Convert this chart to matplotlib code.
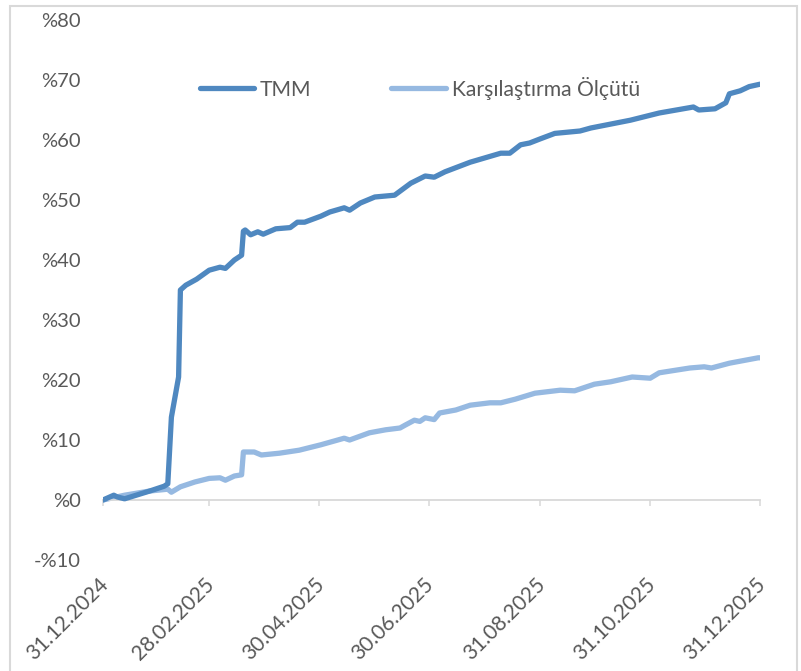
'''
    TMM ve karşılaştırma ölçütü getiri grafiği
'''
import matplotlib
matplotlib.use('Agg')
import matplotlib.pyplot as plt
import matplotlib.dates as mdates
import matplotlib.transforms as mtransforms
from matplotlib.patches import Rectangle
import pandas as pd

'''
    Veriler (31.12.2024'ten itibaren gün, kümülatif getiri %)
'''

start = pd.Timestamp('2024-12-31')

tmm_days = [0, 6, 8, 12, 26, 34, 36, 38, 42, 43, 46, 52, 59, 65, 68, 73, 77, 78, 79, 82,
            86, 89, 96, 104, 108, 112, 121, 126, 134, 137, 143, 151, 162, 171, 179, 184,
            190, 204, 221, 226, 232, 237, 243, 251, 265, 271, 293, 309, 328, 331, 340,
            346, 348, 354, 359, 365]
tmm_values = [0.0, 0.8, 0.5, 0.2, 1.5, 2.3, 2.7, 13.8, 20.5, 35.0, 35.8, 36.8, 38.3, 38.8,
              38.6, 40.0, 40.8, 44.8, 45.0, 44.2, 44.7, 44.3, 45.2, 45.4, 46.3, 46.3, 47.3,
              48.0, 48.7, 48.3, 49.5, 50.5, 50.8, 52.8, 54.0, 53.8, 54.7, 56.3, 57.8, 57.8,
              59.2, 59.5, 60.2, 61.1, 61.5, 62.0, 63.3, 64.5, 65.5, 65.0, 65.2, 66.2, 67.7,
              68.2, 68.9, 69.3]

olcut_days = [0, 12, 26, 36, 38, 43, 51, 59, 65, 68, 73, 77, 78, 84, 88, 98, 109, 121,
              134, 137, 148, 157, 165, 168, 173, 176, 179, 184, 187, 196, 204, 215, 221,
              229, 240, 254, 262, 273, 282, 294, 304, 309, 326, 334, 338, 348, 364, 365]
olcut_values = [0.0, 0.8, 1.5, 1.8, 1.3, 2.2, 3.0, 3.6, 3.7, 3.3, 4.0, 4.2, 8.0, 8.0, 7.5,
                7.8, 8.3, 9.2, 10.3, 10.0, 11.2, 11.7, 12.0, 12.5, 13.3, 13.1, 13.7, 13.4,
                14.5, 15.0, 15.8, 16.2, 16.2, 16.8, 17.8, 18.3, 18.2, 19.3, 19.7, 20.5,
                20.3, 21.2, 22.0, 22.2, 22.0, 22.8, 23.7, 23.7]

tick_dates = ['2024-12-31', '2025-02-28', '2025-04-30', '2025-06-30',
              '2025-08-31', '2025-10-31', '2025-12-31']
tick_labels = ['31.12.2024', '28.02.2025', '30.04.2025', '30.06.2025',
               '31.08.2025', '31.10.2025', '31.12.2025']
y_ticks = [-10, 0, 10, 20, 30, 40, 50, 60, 70, 80]

series_names = ['TMM', 'Karşılaştırma Ölçütü']

plt.rcParams['font.family'] = ['Lato', 'DejaVu Sans']

text_color = '#595959'
axis_color = '#d9d9d9'
dark_blue = '#4f88c0'
light_blue = '#96b9e1'
font_size = 14.5


def make_plot():
    tmm_dates = start + pd.to_timedelta(tmm_days, unit='D')
    olcut_dates = start + pd.to_timedelta(olcut_days, unit='D')
    ticks = pd.to_datetime(tick_dates)

    fig = plt.figure(figsize=(8.01, 6.71), dpi=100)
    ax = fig.add_axes([103 / 801, 1 - 560 / 671, 657 / 801, 540 / 671])

    ax.plot(tmm_dates, tmm_values, color=dark_blue, lw=3.8, label=series_names[0],
            solid_capstyle='round', solid_joinstyle='round', zorder=3)
    ax.plot(olcut_dates, olcut_values, color=light_blue, lw=3.8, label=series_names[1],
            solid_capstyle='round', solid_joinstyle='round', zorder=2)

    ax.set_xlim(ticks[0], ticks[-1])
    ax.set_ylim(-10, 80)

    # y ekseni
    ax.set_yticks(y_ticks)
    ax.set_yticklabels([('-%' + str(-v)) if v < 0 else ('%' + str(v)) for v in y_ticks])
    ax.tick_params(axis='y', length=0, pad=16, labelsize=font_size, labelcolor=text_color)
    ax.spines['left'].set_visible(False)
    ax.spines['right'].set_visible(False)
    ax.spines['top'].set_visible(False)

    # x ekseni sıfır çizgisinde, etiketler altta
    ax.spines['bottom'].set_position(('data', 0))
    ax.spines['bottom'].set_color(axis_color)
    ax.spines['bottom'].set_linewidth(1.3)
    ax.set_xticks(ticks)
    ax.set_xticklabels([])
    ax.tick_params(axis='x', direction='out', length=4.5, width=1.1, color=axis_color)

    trans = mtransforms.blended_transform_factory(ax.transData, ax.transAxes) + \
        mtransforms.ScaledTranslation(0.02, 0, fig.dpi_scale_trans)
    for d, lab in zip(ticks, tick_labels):
        ax.text(mdates.date2num(d), -0.040, lab, transform=trans, rotation=45,
                rotation_mode='anchor', ha='right', va='center',
                fontsize=font_size + 0.5, color=text_color)

    leg = ax.legend(loc='center', bbox_to_anchor=(0.482, 0.874), ncol=2, frameon=False,
                    fontsize=15.2, handlelength=2.6, handletextpad=0.25,
                    columnspacing=3.8)
    for t in leg.get_texts():
        t.set_color(text_color)

    fig.patches.append(Rectangle((10 / 801, -0.02), 787 / 801, 1 - 6 / 671 + 0.02,
                                 transform=fig.transFigure, fill=False,
                                 ec=axis_color, lw=1.5))

    fig.savefig('out.png', dpi=100)


if __name__ == '__main__':
    make_plot()
